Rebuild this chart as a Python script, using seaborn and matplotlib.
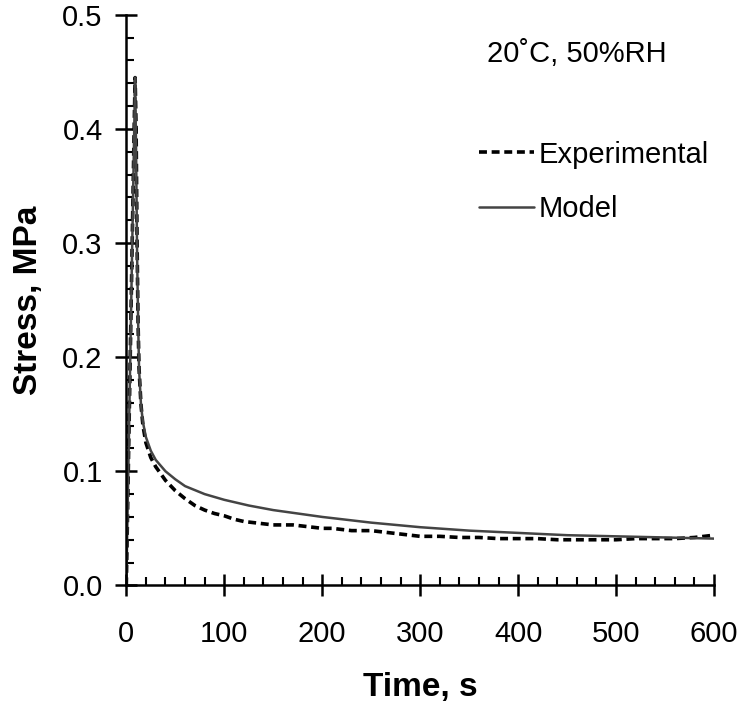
import numpy as np
import pandas as pd
import matplotlib
matplotlib.use("Agg")
import matplotlib.pyplot as plt
import seaborn as sns
from matplotlib.ticker import MultipleLocator

# ---- data ----
exp_time = [0, 2, 4, 6, 8, 9, 10, 11, 12, 13, 15, 17, 20, 25, 30, 40, 50, 60, 70, 80,
            90, 100, 110, 120, 130, 140, 150, 160, 170, 180, 190, 200, 210, 220, 230,
            240, 250, 260, 270, 280, 290, 300, 320, 340, 360, 380, 400, 420, 440, 460,
            480, 500, 520, 540, 560, 580, 590, 600]
exp_stress = [0, 0.10, 0.20, 0.30, 0.40, 0.445, 0.40, 0.30, 0.23, 0.19, 0.158, 0.14,
              0.125, 0.112, 0.104, 0.092, 0.083, 0.076, 0.070, 0.066, 0.063, 0.061,
              0.058, 0.056, 0.055, 0.054, 0.053, 0.053, 0.053, 0.052, 0.051, 0.050,
              0.050, 0.049, 0.048, 0.048, 0.048, 0.047, 0.046, 0.045, 0.044, 0.043,
              0.043, 0.042, 0.042, 0.041, 0.041, 0.041, 0.040, 0.040, 0.040, 0.040,
              0.041, 0.041, 0.041, 0.042, 0.043, 0.044]

model_time = [0, 9, 10, 11, 12, 13, 15, 17, 20, 25, 30, 40, 50, 60, 80, 100, 125, 150,
              200, 250, 300, 350, 400, 450, 500, 550, 600]
model_stress = [0, 0.445, 0.38, 0.29, 0.235, 0.19, 0.158, 0.143, 0.13, 0.118, 0.110,
                0.100, 0.093, 0.087, 0.080, 0.075, 0.070, 0.066, 0.060, 0.055, 0.051,
                0.048, 0.046, 0.044, 0.043, 0.042, 0.041]

series_labels = ["Experimental", "Model"]
x_label = "Time, s"
y_label = "Stress, MPa"
condition_text = "20˚C, 50%RH"

# ---- plotting ----
sns.set_style("ticks")
plt.rcParams["font.family"] = ["Liberation Sans", "DejaVu Sans"]
plt.rcParams["text.color"] = "black"
plt.rcParams["axes.labelcolor"] = "black"

fig = plt.figure(figsize=(7.43, 7.07), dpi=100)
ax = fig.add_axes([0.170, 0.172, 0.791, 0.807])

exp_df = pd.DataFrame({"t": exp_time, "s": exp_stress})
mod_df = pd.DataFrame({"t": model_time, "s": model_stress})

sns.lineplot(data=exp_df, x="t", y="s", ax=ax, color="black", linewidth=2.6,
             linestyle=(0, (2.2, 1.3)), label=series_labels[0], sort=False)
sns.lineplot(data=mod_df, x="t", y="s", ax=ax, color="#444444", linewidth=1.8,
             label=series_labels[1], sort=False)

ax.set_xlim(0, 600)
ax.set_ylim(0, 0.5)
ax.xaxis.set_major_locator(MultipleLocator(100))
ax.xaxis.set_minor_locator(MultipleLocator(20))
ax.yaxis.set_major_locator(MultipleLocator(0.1))
ax.yaxis.set_minor_locator(MultipleLocator(0.02))
ax.yaxis.set_major_formatter(matplotlib.ticker.FormatStrFormatter("%.1f"))

sns.despine(ax=ax)
for sp in ["left", "bottom"]:
    ax.spines[sp].set_linewidth(1.8)
    ax.spines[sp].set_color("black")

ax.tick_params(which="both", bottom=True, left=True)
ax.tick_params(which="major", direction="inout", length=16, width=1.8,
               labelsize=21, colors="black", labelcolor="black")
ax.tick_params(which="minor", direction="in", length=6, width=1.5, colors="black")
ax.tick_params(axis="x", which="major", pad=17)
ax.tick_params(axis="y", which="major", pad=9)

ax.set_xlabel(x_label, fontsize=24, fontweight="bold", labelpad=17, color="black")
ax.set_ylabel(y_label, fontsize=24, fontweight="bold", labelpad=13, color="black")

ax.text(0.614, 0.932, condition_text, transform=ax.transAxes, fontsize=21,
        ha="left", va="center", color="black")

leg = ax.legend(loc="upper left", bbox_to_anchor=(0.58, 0.80), frameon=False,
                fontsize=21, handlelength=1.9, handletextpad=0.15, labelspacing=0.9,
                borderaxespad=0)
for t in leg.get_texts():
    t.set_color("black")

fig.savefig("out.png", dpi=100)
